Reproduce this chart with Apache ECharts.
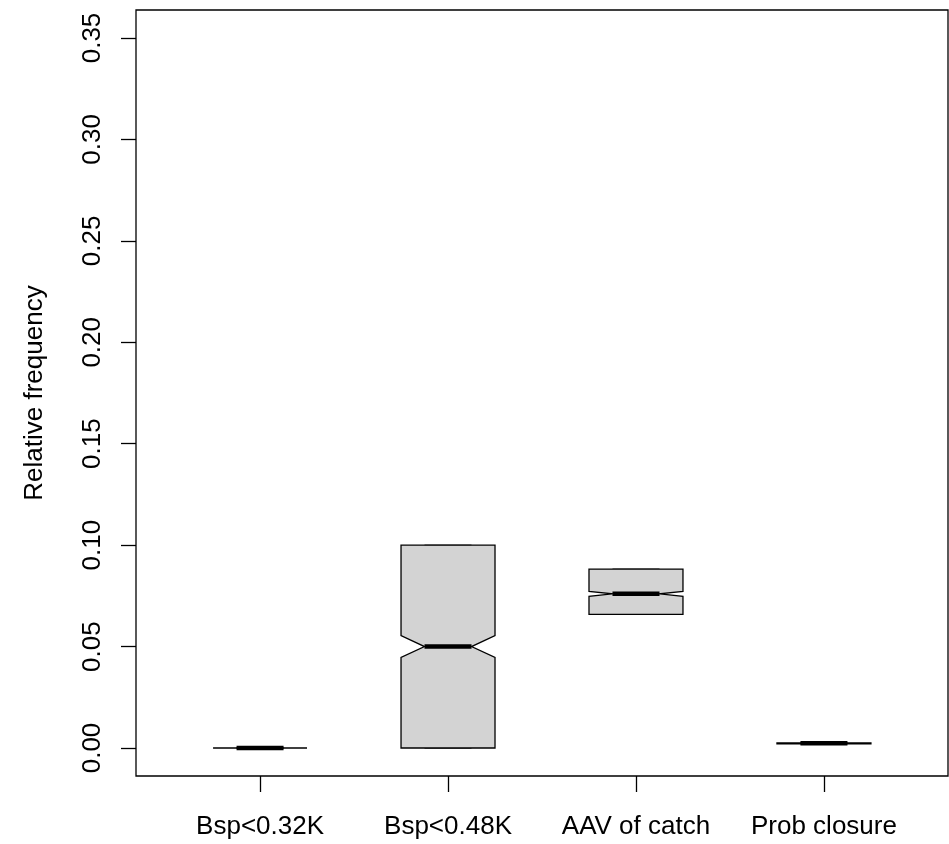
<!DOCTYPE html>
<html>
<head>
<meta charset="utf-8">
<script src="https://cdn.jsdelivr.net/npm/echarts@6/dist/echarts.min.js"></script>
<style>
html,body{margin:0;padding:0;background:#fff;}
#c{width:949px;height:844px;}
</style>
</head>
<body>
<div id="c"></div>
<script>
// ---- data ----
var categories = ['Bsp<0.32K', 'Bsp<0.48K', 'AAV of catch', 'Prob closure'];
var whiskerLow  = [0, 0,      0.0659, 0.0021];
var q1          = [0, 0,      0.0659, 0.0021];
var median      = [0, 0.0500, 0.0760, 0.0023];
var q3          = [0, 0.1000, 0.0882, 0.0025];
var whiskerHigh = [0, 0.1000, 0.0882, 0.0025];
var notchLow    = [0, 0.0446, 0.0748, 0.0022];
var notchHigh   = [0, 0.0554, 0.0772, 0.0024];
var yTicks = [0, 0.05, 0.10, 0.15, 0.20, 0.25, 0.30, 0.35];
var xTicks = [1, 2, 3, 4];

var FONT = '"Liberation Sans", Arial, Helvetica, sans-serif';

var seriesData = categories.map(function (c, i) {
  return [i + 1, whiskerLow[i], q1[i], notchLow[i], median[i], notchHigh[i], q3[i], whiskerHigh[i]];
});

function renderBox(params, api) {
  var x = api.value(0);
  var wl = api.value(1), lq = api.value(2), nl = api.value(3), md = api.value(4),
      nh = api.value(5), uq = api.value(6), wh = api.value(7);
  var hw = 0.25;
  var L = api.coord([x - hw, 0])[0];
  var R = api.coord([x + hw, 0])[0];
  var C = api.coord([x, 0])[0];
  var w = R - L;
  var inL = L + w / 4, inR = R - w / 4;
  function Y(v) { return api.coord([x, v])[1]; }
  var children = [];
  var sL = C - w / 4, sR = C + w / 4;
  if (wl < lq) {
    children.push({type: 'line', shape: {x1: C, y1: Y(lq), x2: C, y2: Y(wl)}, style: {stroke: '#000', lineWidth: 1, lineDash: [4, 4]}});
  }
  if (wh > uq) {
    children.push({type: 'line', shape: {x1: C, y1: Y(uq), x2: C, y2: Y(wh)}, style: {stroke: '#000', lineWidth: 1, lineDash: [4, 4]}});
  }
  children.push({type: 'line', shape: {x1: sL, y1: Y(wl), x2: sR, y2: Y(wl)}, style: {stroke: '#000', lineWidth: 1}});
  children.push({type: 'line', shape: {x1: sL, y1: Y(wh), x2: sR, y2: Y(wh)}, style: {stroke: '#000', lineWidth: 1}});
  var pts = [
    [L, Y(lq)], [L, Y(nl)], [inL, Y(md)], [L, Y(nh)], [L, Y(uq)],
    [R, Y(uq)], [R, Y(nh)], [inR, Y(md)], [R, Y(nl)], [R, Y(lq)]
  ];
  children.push({type: 'polygon', shape: {points: pts}, style: {fill: '#d3d3d3', stroke: '#000', lineWidth: 1.3, lineJoin: 'miter'}});
  children.push({type: 'line', shape: {x1: inL, y1: Y(md), x2: inR, y2: Y(md)}, style: {stroke: '#000', lineWidth: 4.5, lineCap: 'butt'}});
  return {type: 'group', children: children};
}

var chart = echarts.init(document.getElementById('c'), null, {renderer: 'canvas'});
chart.setOption({
  animation: false,
  backgroundColor: '#fff',
  grid: {left: 136, right: 1, top: 10, bottom: 68, show: true, borderColor: '#000', borderWidth: 1.3, backgroundColor: 'transparent'},
  xAxis: {
    type: 'value', min: 0.34, max: 4.66,
    splitLine: {show: false},
    axisLine: {show: false, onZero: false},
    axisTick: {show: true, inside: false, length: 16, lineStyle: {color: '#000', width: 1.3}, customValues: xTicks},
    axisLabel: {
      show: true, customValues: xTicks, margin: 38,
      color: '#000', fontSize: 26, fontFamily: FONT,
      formatter: function (v) { return categories[Math.round(v) - 1]; }
    }
  },
  yAxis: {
    type: 'value', min: -0.0138, max: 0.3638,
    name: 'Relative frequency', nameLocation: 'middle', nameGap: 88,
    nameTextStyle: {color: '#000', fontSize: 26, fontFamily: FONT},
    splitLine: {show: false},
    axisLine: {show: false, onZero: false},
    axisTick: {show: true, inside: false, length: 15, lineStyle: {color: '#000', width: 1.3}, customValues: yTicks},
    axisLabel: {
      show: true, customValues: yTicks, rotate: 90, margin: 30,
      color: '#000', fontSize: 26, fontFamily: FONT,
      formatter: function (v) { return v.toFixed(2); }
    }
  },
  series: [{
    type: 'custom',
    renderItem: renderBox,
    data: seriesData,
    encode: {x: 0, y: [1, 7]},
    clip: false
  }]
});
</script>
</body>
</html>
